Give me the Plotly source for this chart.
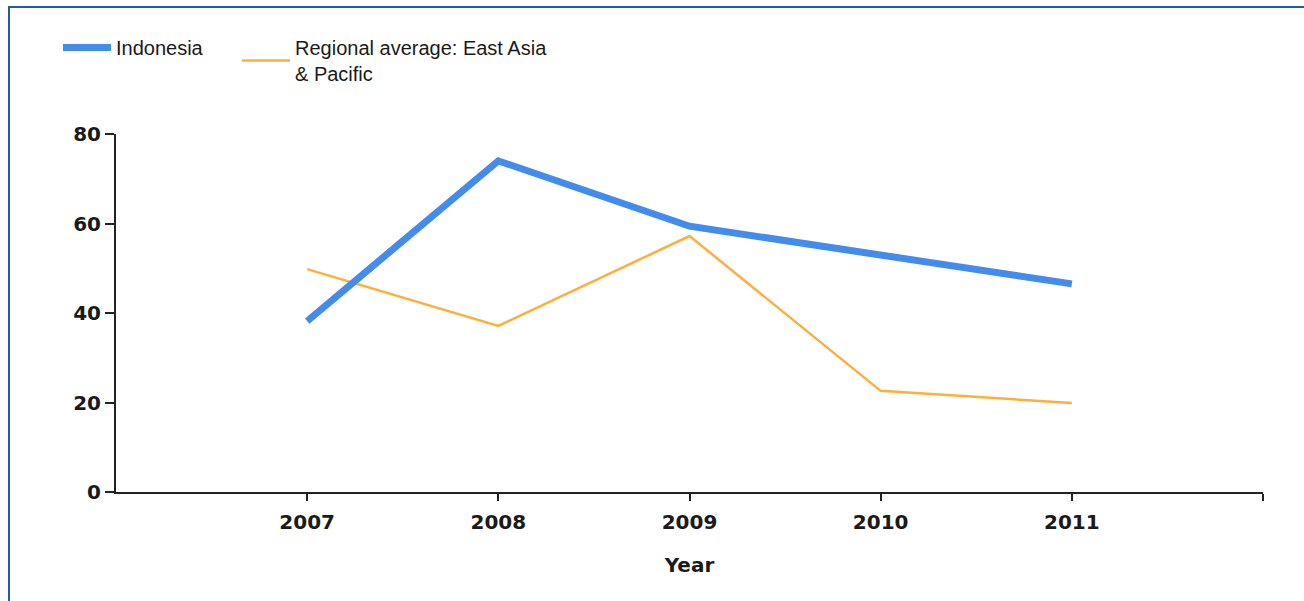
import plotly.graph_objects as go

years = [2007, 2008, 2009, 2010, 2011]
indonesia = [38.2, 74.0, 59.4, 53.0, 46.5]
regional = [49.8, 37.1, 57.2, 22.6, 19.9]
series_names = ["Indonesia", "Regional average: East Asia<br>& Pacific"]
y_ticks = [0, 20, 40, 60, 80]

W, H = 1304, 601
L, R, T, B = 116, 41, 134, 109
pw, ph = W - L - R, H - T - B

def px_x(x):
    return (x - L) / pw

def px_y(y):
    return (H - B - y) / ph

fig = go.Figure()
fig.add_trace(go.Scatter(x=years, y=regional, mode="lines", name=series_names[1],
                         line=dict(color="#FDAF3D", width=2.5), legend="legend2"))
fig.add_trace(go.Scatter(x=years, y=indonesia, mode="lines", name=series_names[0],
                         line=dict(color="#438CEC", width=7), legend="legend"))

border = "#1F5BA8"
fig.add_shape(type="line", xref="paper", yref="paper", x0=px_x(8), x1=px_x(W + 5),
              y0=px_y(7), y1=px_y(7), line=dict(color=border, width=2))
fig.add_shape(type="line", xref="paper", yref="paper", x0=px_x(9), x1=px_x(9),
              y0=px_y(7), y1=px_y(H + 5), line=dict(color=border, width=2))

tickfont = dict(family="DejaVu Sans", size=20, color="#1a1a1a", weight="bold")
legfont = dict(family="Liberation Sans", size=20, color="#1a1a1a")
fig.update_layout(
    width=W, height=H,
    margin=dict(l=L, r=R, t=T, b=B),
    paper_bgcolor="white", plot_bgcolor="white",
    showlegend=True,
    legend=dict(orientation="h", x=px_x(58), y=px_y(28), xanchor="left", yanchor="top",
                itemwidth=48, font=legfont, bgcolor="rgba(0,0,0,0)"),
    legend2=dict(orientation="h", x=px_x(237), y=px_y(28), xanchor="left", yanchor="top",
                 itemwidth=48, font=legfont, bgcolor="rgba(0,0,0,0)"),
    xaxis=dict(range=[2006, 2012], tickvals=years + [2012], ticktext=[str(y) for y in years] + [""],
               showgrid=False, zeroline=False, showline=True, linecolor="#222", linewidth=2,
               ticks="outside", ticklen=7, tickcolor="#222", tickwidth=1.5,
               tickfont=tickfont, ticklabelstandoff=4,
               title=dict(text="Year", font=tickfont, standoff=25)),
    yaxis=dict(range=[0, 80], tickvals=y_ticks, showgrid=False, zeroline=False,
               showline=True, linecolor="#222", linewidth=2,
               ticks="outside", ticklen=9, tickcolor="#222", tickwidth=1.5,
               tickfont=tickfont),
)
fig.write_html("out.html", config={"displayModeBar": False},
               post_script="document.body.style.margin='0';document.body.style.overflow='hidden';")
